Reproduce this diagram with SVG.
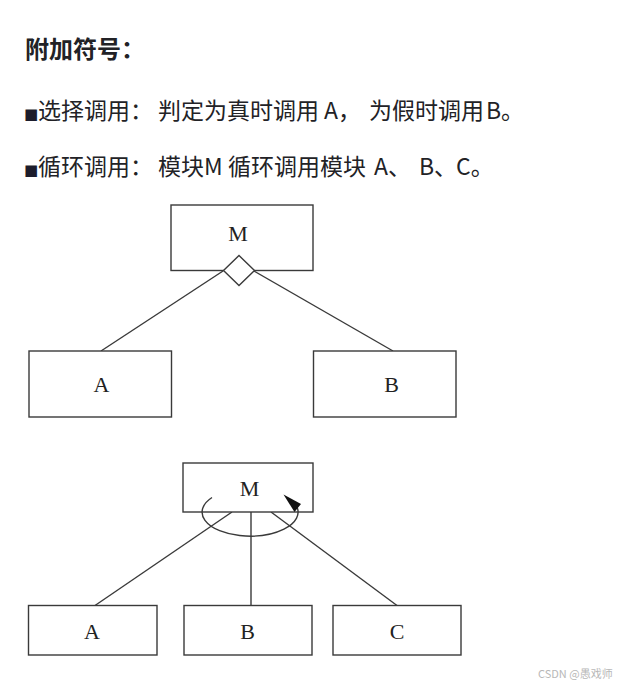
<svg xmlns="http://www.w3.org/2000/svg" width="629" height="686" viewBox="0 0 629 686">
<style>
.t{font-family:"Noto Sans CJK SC","Noto Sans",sans-serif;font-size:23px;fill:#222226}
.sq{font-family:"DejaVu Sans",sans-serif;font-size:15px;fill:#1c1c2c}
.h{font-family:"Noto Sans CJK SC","Noto Sans",sans-serif;font-size:24px;font-weight:700;fill:#222226}
.box{fill:#fff;stroke:#3a3a3a;stroke-width:1.4}
.lbl{font-family:"Liberation Serif","Times New Roman",serif;font-size:22px;fill:#222;text-anchor:middle}
.ln{stroke:#3a3a3a;stroke-width:1.4;fill:none}
.wm{font-family:"Noto Sans CJK SC","Noto Sans",sans-serif;font-size:11px;fill:#b8b8b8}
</style>
<rect width="629" height="686" fill="#fff"/>
<g id="texts">
<text class="h" x="25" y="58">附加符号：</text>
<text class="sq" x="24" y="119">■</text>
<text class="t" y="119"><tspan x="38">选择调用：</tspan><tspan x="158">判定为真时调用</tspan><tspan x="324">A，</tspan><tspan x="369">为假时调用</tspan><tspan x="486">B。</tspan></text>
<text class="sq" x="24" y="175">■</text>
<text class="t" y="175"><tspan x="38">循环调用：</tspan><tspan x="158">模块M</tspan><tspan x="228">循环调用模块</tspan><tspan x="374">A、</tspan><tspan x="419">B、</tspan><tspan x="456">C。</tspan></text>
<text class="wm" x="538" y="678">CSDN @愚戏师</text>
</g>
<g id="connectors">
<line class="ln" x1="223" y1="271" x2="101" y2="351"/>
<line class="ln" x1="254" y1="271" x2="393" y2="351"/>
<line class="ln" x1="232" y1="512" x2="95" y2="605.5"/>
<line class="ln" x1="251" y1="512" x2="251" y2="605.5"/>
<line class="ln" x1="271" y1="512" x2="397" y2="605.5"/>
</g>
<g id="node-M1">
<rect class="box" x="171" y="205" width="142" height="65.5"/>
<text class="lbl" x="238" y="241">M</text>
</g>
<g id="diamond">
<polygon class="box" points="239,255.5 254.5,270.5 239,285.5 223.5,270.5"/>
</g>
<g id="node-A1">
<rect class="box" x="29" y="351" width="142.5" height="66"/>
<text class="lbl" x="101.5" y="392">A</text>
</g>
<g id="node-B1">
<rect class="box" x="313.5" y="351" width="142.5" height="66"/>
<text class="lbl" x="391.5" y="392">B</text>
</g>
<g id="node-M2">
<rect class="box" x="183" y="463" width="130" height="49"/>
<text class="lbl" x="249.5" y="495.5">M</text>
</g>
<g id="loop">
<path class="ln" d="M 212 497.5 A 48 24 0 1 0 297 507"/>
<polygon points="283.5,494.5 301,504 294.5,512" fill="#111"/>
</g>
<g id="node-A2">
<rect class="box" x="28.5" y="605.5" width="128.5" height="49.5"/>
<text class="lbl" x="92" y="639">A</text>
</g>
<g id="node-B2">
<rect class="box" x="184" y="605.5" width="128" height="49.5"/>
<text class="lbl" x="247.5" y="639">B</text>
</g>
<g id="node-C2">
<rect class="box" x="333" y="605.5" width="128" height="49.5"/>
<text class="lbl" x="397" y="639">C</text>
</g>
</svg>
